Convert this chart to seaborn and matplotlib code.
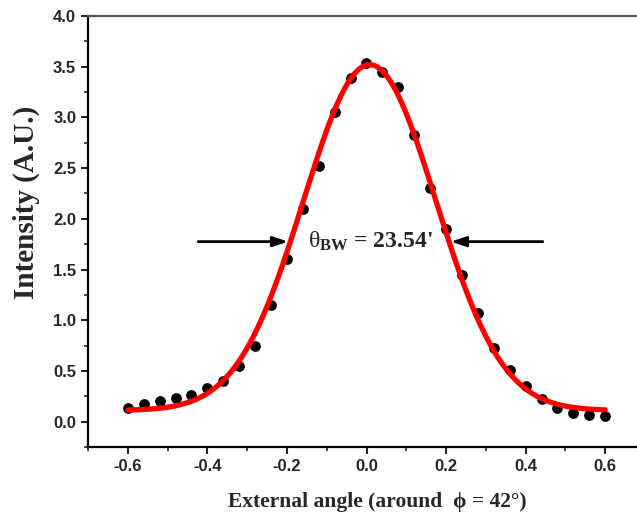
import numpy as np
import pandas as pd
import matplotlib
matplotlib.use("Agg")
import matplotlib.pyplot as plt
import seaborn as sns
from matplotlib.ticker import MultipleLocator

# measured data
angle = [-0.60, -0.56, -0.52, -0.48, -0.44, -0.40, -0.36, -0.32, -0.28, -0.24,
         -0.20, -0.16, -0.12, -0.08, -0.04, 0.00, 0.04, 0.08, 0.12, 0.16,
         0.20, 0.24, 0.28, 0.32, 0.36, 0.40, 0.44, 0.48, 0.52, 0.56, 0.60]
intensity = [0.13, 0.17, 0.20, 0.23, 0.26, 0.33, 0.40, 0.545, 0.75, 1.15,
             1.60, 2.10, 2.52, 3.05, 3.39, 3.54, 3.45, 3.30, 2.83, 2.30,
             1.90, 1.45, 1.07, 0.73, 0.51, 0.35, 0.22, 0.135, 0.086, 0.07, 0.052]

# Gaussian fit parameters
fit_y0 = 0.11
fit_amp = 3.41
fit_xc = 0.008
fit_fwhm = 0.392

label_text = r"$\mathrm{\theta}_{\mathbf{BW}}$ = 23.54'"

sns.set_style("ticks")
plt.rcParams["mathtext.fontset"] = "custom"
plt.rcParams["mathtext.rm"] = "Liberation Serif"
plt.rcParams["mathtext.it"] = "Liberation Serif:italic"
plt.rcParams["mathtext.bf"] = "Liberation Serif:bold"

fig = plt.figure(figsize=(6.37, 5.18), dpi=100)
ax = fig.add_axes([88/637, 1-447/518, (645-88)/637, (447-16)/518])

df = pd.DataFrame({"angle": angle, "intensity": intensity})
xf = np.linspace(min(angle), max(angle), 400)
sig = fit_fwhm / (2*np.sqrt(2*np.log(2)))
yf = fit_y0 + fit_amp*np.exp(-(xf-fit_xc)**2/(2*sig**2))
fit_df = pd.DataFrame({"angle": xf, "intensity": yf})

sns.scatterplot(data=df, x="angle", y="intensity", ax=ax, color="black",
                s=60, edgecolor="black", linewidth=0, zorder=2)
sns.lineplot(data=fit_df, x="angle", y="intensity", ax=ax, color="#ff0000",
             linewidth=3.8, zorder=3)

ax.set_xlim(-0.7, 0.7)
ax.set_ylim(-0.25, 4.0)
ax.xaxis.set_major_locator(MultipleLocator(0.2))
ax.xaxis.set_minor_locator(MultipleLocator(0.1))
ax.yaxis.set_minor_locator(MultipleLocator(0.25))
ax.set_xticks(np.arange(-0.6, 0.61, 0.2))
ax.set_yticks(np.arange(0, 4.01, 0.5))
ax.tick_params(which="major", direction="out", length=5, width=1.5)
ax.tick_params(which="minor", direction="out", length=3, width=1.2)
ax.tick_params(axis="y", which="minor", left=True)
ax.set_xticklabels(["%.1f" % v for v in ax.get_xticks()])
ax.set_yticklabels(["%.1f" % v for v in ax.get_yticks()])
for lab in ax.get_xticklabels() + ax.get_yticklabels():
    lab.set_fontfamily("Liberation Sans")
    lab.set_fontweight("bold")
    lab.set_fontsize(12)

for s in ["left", "bottom", "top", "right"]:
    ax.spines[s].set_visible(True)
    ax.spines[s].set_linewidth(1.6)
    ax.spines[s].set_color("black")
ax.spines["top"].set_color("#555555")

ax.set_xlabel("External angle (around  ϕ = 42°)", fontsize=15.5, fontweight="bold",
              family=["Liberation Serif", "DejaVu Serif"])
ax.set_ylabel("Intensity (A.U.)", fontsize=21, fontweight="bold",
              family=["Liberation Serif", "DejaVu Serif"])
ax.xaxis.set_label_coords((377-88)/557, -(512-447)/431)
ax.yaxis.set_label_coords(-(88-40)/557, (447-202)/431)
ax.xaxis.label.set_va("bottom")

ay = 1.775
ax.annotate("", xy=(-0.19, ay), xytext=(-0.43, ay),
            arrowprops=dict(arrowstyle="-|>,head_length=0.9,head_width=0.3",
                            color="black", lw=2))
ax.annotate("", xy=(0.205, ay), xytext=(0.45, ay),
            arrowprops=dict(arrowstyle="-|>,head_length=0.9,head_width=0.3",
                            color="black", lw=2))
ax.text(0.01, ay, label_text, ha="center", va="center", fontsize=17,
        fontweight="bold", family=["Liberation Serif", "DejaVu Serif"], zorder=5)

fig.savefig("out.png", dpi=100)
